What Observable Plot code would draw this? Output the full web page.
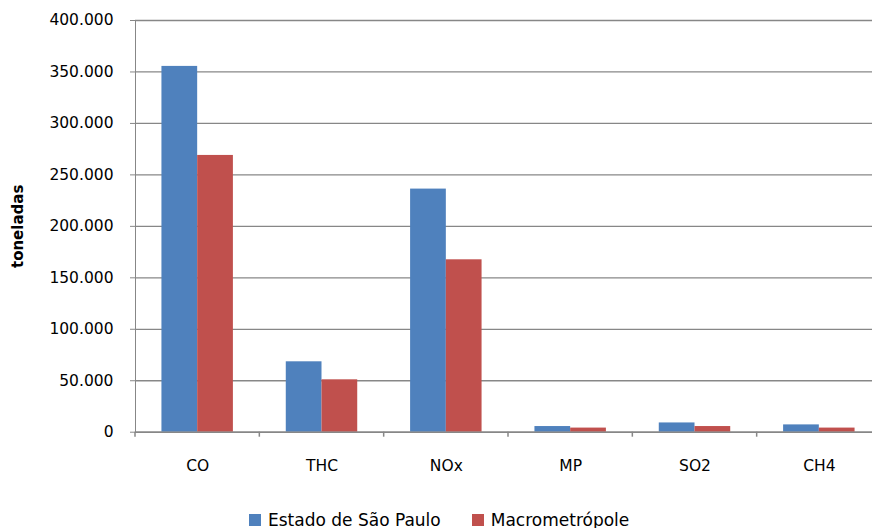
<!DOCTYPE html>
<html>
<head>
<meta charset="utf-8">
<script src="https://cdn.jsdelivr.net/npm/d3@7"></script>
<script src="https://cdn.jsdelivr.net/npm/@observablehq/plot@0.6"></script>
<style>
  html, body { margin: 0; padding: 0; background: #fff; overflow: hidden; }
  #wrap { position: relative; width: 872px; height: 528px; overflow: hidden; }
  #chart svg text { fill: #000; }
  .legend { position: absolute; left: 249px; top: 510px; display: flex; gap: 31px;
            font-family: "DejaVu Sans", sans-serif; font-size: 17px; line-height: 20px; color: #000; }
  .legend .item { display: flex; align-items: flex-start; }
  .legend .sw { width: 12px; height: 12px; margin-top: 4px; margin-right: 7px; }
</style>
</head>
<body>
<div id="wrap">
  <div id="chart"></div>
  <div class="legend" id="legend"></div>
</div>
<script>
// Emissões por poluente (toneladas)
const categories = ["CO", "THC", "NOx", "MP", "SO2", "CH4"];
const seriesNames = ["Estado de São Paulo", "Macrometrópole"];
const estadoValues = [355400, 68400, 236200, 5500, 9000, 7100];
const macroValues = [268900, 50900, 167500, 4000, 5500, 4000];
const seriesColors = ["#4F81BD", "#C0504D"];
const yLabel = "toneladas";

const rows = [];
categories.forEach((c, i) => {
  rows.push({cat: c, serie: seriesNames[0], value: estadoValues[i]});
  rows.push({cat: c, serie: seriesNames[1], value: macroValues[i]});
});

const ptBR = d3.formatLocale({decimal: ",", thousands: ".", grouping: [3], currency: ["R$", ""]});
const fmt = ptBR.format(",d");
const axisGray = "#878787";
const W = 872;

// the last category band runs slightly past the right edge of the frame
const plot = Plot.plot({
  width: W,
  height: 500,
  marginLeft: 135,
  marginRight: 0,
  marginTop: 20,
  marginBottom: 68.3,
  style: {fontFamily: "DejaVu Sans", fontSize: "15.5px", color: axisGray, background: "white"},
  fx: {domain: categories, range: [135, 881], padding: 0, round: false, axis: "bottom", tickSize: 0, tickPadding: 28, label: null},
  x: {domain: seriesNames, paddingInner: 0, paddingOuter: 0.74, round: false, axis: null},
  y: {domain: [0, 400000], ticks: 8, tickFormat: fmt, tickSize: 5, tickPadding: 17, line: true,
      label: yLabel, labelArrow: "none", labelAnchor: "center", labelOffset: 123},
  color: {domain: seriesNames, range: seriesColors},
  marks: [
    Plot.barY(rows, {fx: "cat", x: "serie", y: "value", fill: "serie"})
  ]
});

document.getElementById("chart").appendChild(plot);
const svg = d3.select(plot);

// bold axis title, without arrow
svg.selectAll('g[aria-label="y-axis label"] text')
  .text(yLabel).style("font-weight", "bold").style("font-size", "15px");

const ys = plot.scale("y");
const y0 = ys.apply(0);

// horizontal grid across the whole frame, behind the bars
const gridValues = d3.ticks(ys.domain[0], ys.domain[1], 8);
svg.insert("g", 'g[aria-label="bar"]')
  .attr("stroke", axisGray).attr("stroke-width", 1.3)
  .selectAll("line").data(gridValues).join("line")
  .attr("x1", 135).attr("x2", W)
  .attr("y1", d => ys.apply(d) + 0.5).attr("y2", d => ys.apply(d) + 0.5);

// baseline and category separator ticks, taken from the fx band scale
const fxs = plot.scale("fx");
const band = d3.scaleBand(fxs.domain, fxs.range).paddingInner(0).paddingOuter(0);
const edges = categories.map(c => band(c)).concat([band(categories[categories.length - 1]) + band.bandwidth()]);
const base = svg.append("g").attr("stroke", axisGray).attr("stroke-width", 1.5);
base.append("line").attr("x1", 135).attr("x2", W).attr("y1", y0 + 0.5).attr("y2", y0 + 0.5);
base.selectAll("line.sep").data(edges).join("line").attr("class", "sep")
  .attr("x1", d => d).attr("x2", d => d)
  .attr("y1", y0).attr("y2", y0 + 5);

// legend
const leg = d3.select("#legend");
seriesNames.forEach((s, i) => {
  const it = leg.append("div").attr("class", "item");
  it.append("div").attr("class", "sw").style("background", seriesColors[i]);
  it.append("span").text(s);
});
</script>
</body>
</html>
